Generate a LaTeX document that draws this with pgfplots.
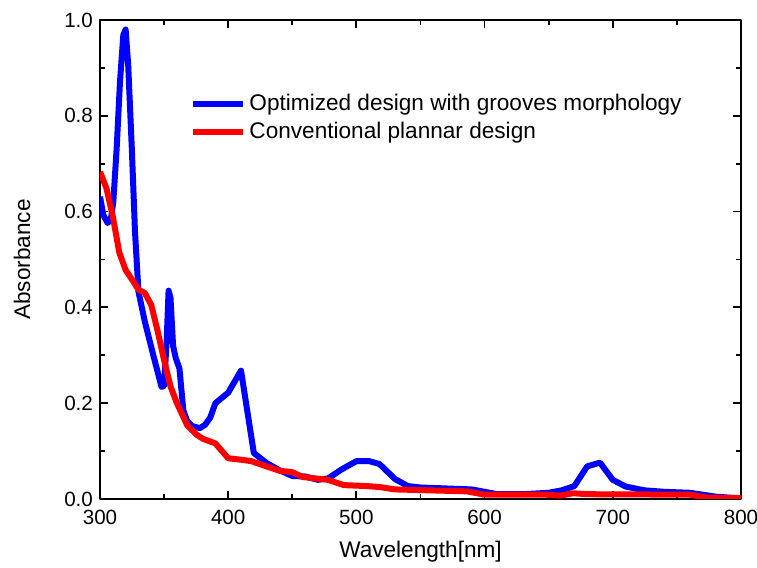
\documentclass[border=0pt]{standalone}
\usepackage{pgfplots}
\pgfplotsset{compat=1.18}
\usepackage{fontspec}
\setmainfont{Liberation Sans}
\definecolor{pblue}{RGB}{0,0,255}
\definecolor{pred}{RGB}{255,0,0}
\begin{document}
\begin{tikzpicture}
\begin{axis}[
  scale only axis,
  width=320.5pt, height=239.5pt,
  xmin=300, xmax=800, ymin=0, ymax=1.0,
  xtick={300,400,...,800},
  ytick={0,0.2,0.4,0.6,0.8,1.0},
  minor x tick num=1, minor y tick num=1,
  tick align=inside,
  xtick pos=both, ytick pos=both,
  major tick length=4pt, minor tick length=2.5pt,
  axis line style={line width=1pt},
  every tick/.style={line width=0.9pt, black},
  /pgf/number format/assume math mode=true,
  yticklabel style={/pgf/number format/fixed, /pgf/number format/fixed zerofill, /pgf/number format/precision=1, font=\fontsize{10.3}{12}\selectfont},
  xticklabel style={font=\fontsize{10.3}{12}\selectfont, yshift=-2pt},
  xlabel={Wavelength[nm]}, ylabel={Absorbance},
  every axis x label/.style={at={(axis description cs:0.5,-0.1106)}, anchor=center, font=\fontsize{11.3}{13}\selectfont},
  every axis y label/.style={at={(axis description cs:-0.1217,0.5)}, anchor=center, rotate=90, font=\fontsize{11.3}{13}\selectfont},
  legend style={at={(axis description cs:0.139,0.854)}, anchor=north west, draw=none, fill=none, inner sep=0pt, font=\fontsize{11.3}{13}\selectfont, row sep=0.3pt, cells={anchor=west}},
  legend image code/.code={\draw[#1] (0pt,0pt) -- (25pt,0pt);},
  /tikz/every even column/.append style={column sep=0pt},
  line join=round,
]
\addplot[pblue, line width=3pt, mark=none] coordinates {
(300,0.631) (302.6,0.593) (306,0.576) (308.6,0.586) (310.4,0.621) (313,0.732) (315.6,0.871) (318.2,0.969) (320,0.98) (322,0.906) (324.8,0.733) (327.3,0.558) (330,0.433) (335,0.37) (341.6,0.30) (348,0.234) (350,0.236) (352,0.33) (353.5,0.435) (355,0.42) (357,0.32) (359,0.295) (362,0.272) (365,0.185) (368,0.163) (372,0.152) (378,0.148) (382,0.155) (386,0.17) (390,0.2) (400,0.222) (410,0.268) (420,0.096) (430,0.075) (440,0.06) (450,0.048) (460,0.047) (470,0.04) (478,0.043) (488,0.061) (500,0.079) (510,0.079) (518,0.073) (530,0.042) (540,0.027) (550,0.024) (570,0.022) (590,0.02) (600,0.015) (610,0.01) (630,0.01) (650,0.013) (660,0.018) (670,0.027) (680,0.068) (690,0.076) (700,0.04) (710,0.026) (725,0.018) (740,0.015) (760,0.013) (780,0.005) (800,0.001)
};
\addlegendentry{Optimized design with grooves morphology}
\addplot[pred, line width=3pt, mark=none] coordinates {
(300,0.683) (305,0.649) (310,0.59) (315,0.515) (320,0.478) (326,0.454) (330,0.437) (335,0.43) (340,0.405) (345,0.35) (350,0.29) (355,0.235) (360,0.2) (368,0.154) (375,0.135) (380,0.126) (390,0.116) (400,0.085) (410,0.082) (418,0.079) (430,0.068) (440,0.059) (450,0.056) (458,0.046) (478,0.04) (490,0.029) (508,0.027) (518,0.025) (530,0.02) (586,0.016) (600,0.009) (648,0.009) (659,0.007) (669,0.012) (680,0.01) (760,0.009) (773,0.003) (800,0.002)
};
\addlegendentry{Conventional plannar design}
\end{axis}
\pgfresetboundingbox
\path (-50pt,-34.5pt) rectangle (328.5pt,249.5pt);
\end{tikzpicture}
\end{document}
